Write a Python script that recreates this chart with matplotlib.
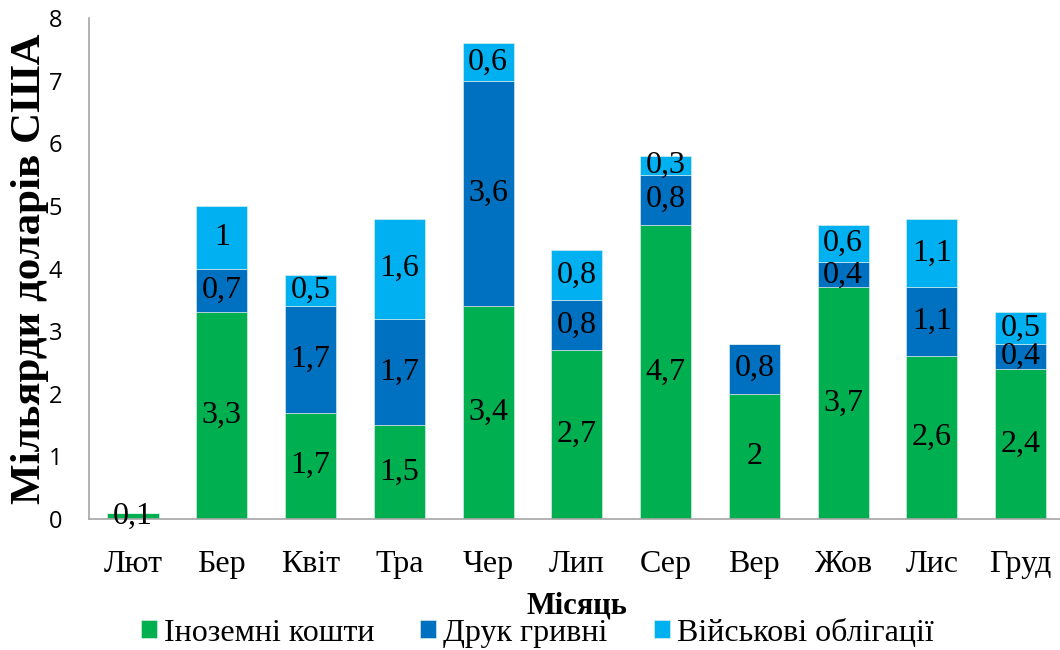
import matplotlib
matplotlib.use("Agg")
import matplotlib.pyplot as plt
import numpy as np

months = ["Лют", "Бер", "Квіт", "Тра", "Чер", "Лип", "Сер", "Вер", "Жов", "Лис", "Груд"]
foreign = [0.1, 3.3, 1.7, 1.5, 3.4, 2.7, 4.7, 2.0, 3.7, 2.6, 2.4]
printing = [0.0, 0.7, 1.7, 1.7, 3.6, 0.8, 0.8, 0.8, 0.4, 1.1, 0.4]
bonds = [0.0, 1.0, 0.5, 1.6, 0.6, 0.8, 0.3, 0.0, 0.6, 1.1, 0.5]
series_names = ["Іноземні кошти", "Друк гривні", "Військові облігації"]
colors = ["#00B050", "#0070C0", "#00B0F0"]
yticks = [0, 1, 2, 3, 4, 5, 6, 7, 8]

serif = "Liberation Serif"

fig = plt.figure(figsize=(10.6, 6.5), dpi=100)
ax = fig.add_axes([88.6 / 1060, 0.2015, 976.4 / 1060, 0.7705])

x = np.arange(len(months))
bottom = np.zeros(len(months))
for vals, name, col in zip([foreign, printing, bonds], series_names, colors):
    vals = np.array(vals)
    ax.bar(x, vals, 0.575, bottom=bottom, color=col, label=name, zorder=2,
           edgecolor="#E8F4EC", linewidth=0.4)
    for xi, v, b in zip(x, vals, bottom):
        if v > 0:
            ax.text(xi, b + v / 2, f"{v:g}".replace(".", ","), ha="center", va="center",
                    fontsize=23, family=serif, color="black", zorder=3)
    bottom = bottom + vals

ax.set_xlim(-0.5, len(months) - 0.5)
ax.set_ylim(0, 8)
ax.set_yticks(yticks)
ax.set_yticklabels([str(t) for t in yticks], family="Open Sans", fontsize=17)
ax.set_xticks(x)
ax.set_xticklabels(months, family=serif, fontsize=23)
ax.tick_params(axis="both", length=0)
ax.tick_params(axis="x", pad=22)
ax.tick_params(axis="y", pad=19)
for s in ["top", "right"]:
    ax.spines[s].set_visible(False)
for s in ["left", "bottom"]:
    ax.spines[s].set_color("#A6A6A6")
    ax.spines[s].set_linewidth(1.2)

ax.set_ylabel("Мільярди доларів США", family=serif, fontsize=31, fontweight="bold", labelpad=0)
ax.set_xlabel("Місяць", family=serif, fontsize=22, fontweight="bold", labelpad=9)

handles, labels = ax.get_legend_handles_labels()
fig.legend(handles, labels, loc="center", bbox_to_anchor=(0.5066, 0.026), ncol=3, frameon=False,
           prop={"family": serif, "size": 23}, handlelength=0.5, handleheight=0.5,
           handletextpad=0.22, columnspacing=1.44, borderpad=0)

fig.savefig("out.png", dpi=100)
